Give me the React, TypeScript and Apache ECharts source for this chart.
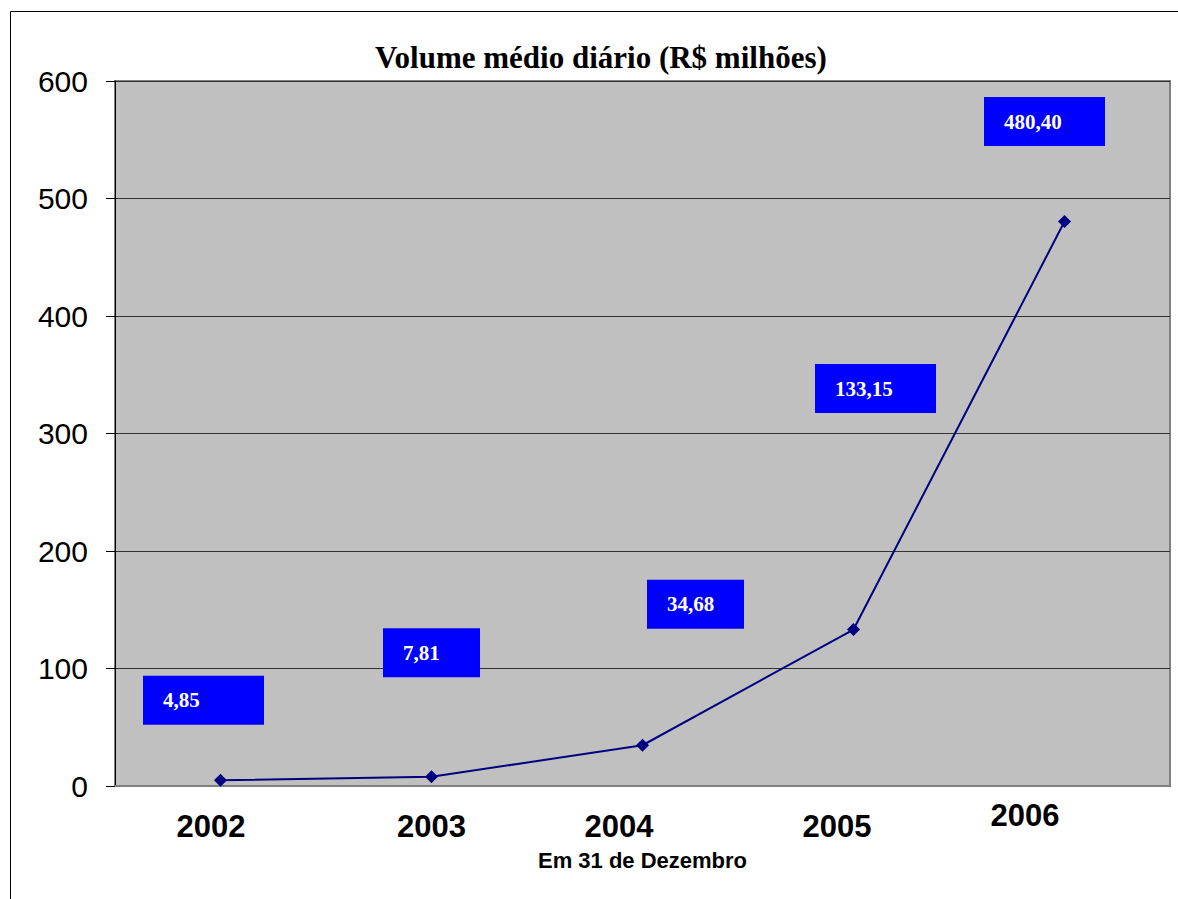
import React, { useEffect, useRef } from "react";
import * as echarts from "echarts";

// ---- data ----
const years: string[] = ["2002", "2003", "2004", "2005", "2006"];
const volume: number[] = [4.85, 7.81, 34.68, 133.15, 480.4];
const yMin = 0;
const yMax = 600;
const yStep = 100;
const titleText = "Volume médio diário (R$ milhões)";
const xAxisName = "Em 31 de Dezembro";

// ---- styles (label box placement, relative to each point) ----
const labelOffsets: number[][] = [
  [-77.5, -80],
  [-48.5, -124],
  [4.5, -141],
  [-38.5, -241],
  [-80.5, -100],
];
const labelBoxWidths: number[] = [121, 97, 97, 121, 121];
// x-axis label nudges: [top padding, right padding]
const xLabelNudges: number[][] = [
  [11, 19],
  [11, 0],
  [11, 47],
  [11, 33],
  [0, 79],
];

const fmt = (v: number) => v.toFixed(2).replace(".", ",");

export default function App() {
  const ref = useRef<HTMLDivElement>(null);

  useEffect(() => {
    document.body.style.margin = "0";
    if (!ref.current) return;
    const chart = echarts.init(ref.current, undefined, { renderer: "svg" });

    const seriesData = volume.map((v, i) => ({
      value: v,
      label: {
        show: true,
        position: "inside",
        align: "left",
        verticalAlign: "middle",
        offset: labelOffsets[i],
        backgroundColor: "#0000FF",
        color: "#FFFFFF",
        fontFamily: "Liberation Serif",
        fontWeight: "bold",
        fontSize: 21,
        width: labelBoxWidths[i] - 20,
        height: 49,
        lineHeight: 49,
        padding: [0, 0, 0, 20],
        formatter: () => fmt(v),
      },
    }));

    const xData = years.map((y, i) => ({
      value: y,
      textStyle: {
        padding: [xLabelNudges[i][0], xLabelNudges[i][1], 0, 0],
      },
    }));

    chart.setOption({
      animation: false,
      backgroundColor: "#FFFFFF",
      title: {
        text: titleText,
        left: 375,
        top: 42,
        padding: 0,
        textStyle: {
          fontFamily: "Liberation Serif",
          fontWeight: "bold",
          fontSize: 31,
          color: "#000000",
        },
      },
      graphic: [
        {
          type: "rect",
          silent: true,
          z: -10,
          shape: { x: 10.5, y: 11.5, width: 1300, height: 1000 },
          style: { fill: "none", stroke: "#000000", lineWidth: 1 },
        },
      ],
      grid: {
        left: 115,
        top: 81,
        right: 8,
        bottom: 113,
        show: true,
        backgroundColor: "#C0C0C0",
        borderColor: "#808080",
        borderWidth: 2,
        containLabel: false,
      },
      xAxis: {
        type: "category",
        data: xData,
        boundaryGap: true,
        name: xAxisName,
        nameLocation: "middle",
        nameGap: 63,
        nameTextStyle: {
          fontFamily: "Liberation Sans",
          fontWeight: "bold",
          fontSize: 22,
          color: "#000000",
        },
        axisLine: { show: true, lineStyle: { color: "#808080", width: 2 } },
        axisTick: { show: false },
        axisLabel: {
          interval: 0,
          margin: 14,
          fontFamily: "Liberation Sans",
          fontWeight: "bold",
          fontSize: 31,
          color: "#000000",
        },
        splitLine: { show: false },
      },
      yAxis: {
        type: "value",
        min: yMin,
        max: yMax,
        interval: yStep,
        axisLine: { show: true, lineStyle: { color: "#000000", width: 1 } },
        axisTick: { show: true, length: 9, lineStyle: { color: "#000000" } },
        axisLabel: {
          margin: 27,
          fontFamily: "Liberation Sans",
          fontSize: 30,
          color: "#000000",
        },
        splitLine: { show: true, lineStyle: { color: "#333333", width: 1 } },
      },
      series: [
        {
          type: "line",
          data: seriesData,
          symbol: "diamond",
          symbolSize: 13,
          itemStyle: { color: "#000080" },
          lineStyle: { color: "#000080", width: 2 },
        },
      ],
    });

    return () => chart.dispose();
  }, []);

  return <div ref={ref} style={{ width: 1178, height: 899 }} />;
}
